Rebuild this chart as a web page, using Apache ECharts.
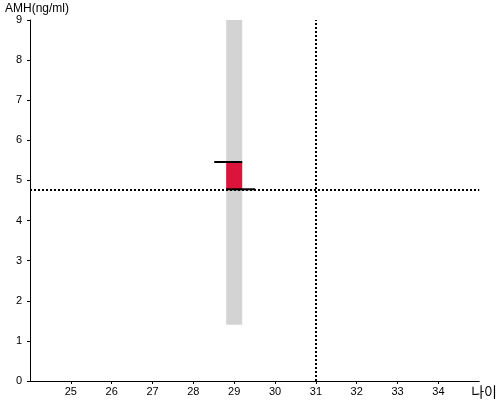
<!DOCTYPE html>
<html>
<head>
<meta charset="utf-8">
<script src="https://cdn.jsdelivr.net/npm/echarts@6/dist/echarts.min.js"></script>
<style>
  html, body { margin: 0; padding: 0; background: #fff; }
  #chart { width: 500px; height: 400px; }
</style>
</head>
<body>
<div id="chart"></div>
<script>
// 나이별 AMH 범위
const ages = [29];
const rangeLow = [1.4];
const rangeHigh = [9];
const myValue = [4.78];
const upperValue = [5.46];
// 기준선
const refAge = 31;
const refAmh = 4.78;

const xTicks = { min: 24, max: 35, interval: 1 };
const yTicks = { min: 0, max: 9, interval: 1 };

const myChart = echarts.init(document.getElementById('chart'));

const seriesData = ages.map((a, i) => [a, rangeLow[i], rangeHigh[i], myValue[i], upperValue[i]]);

const labelStyle = {
  fontFamily: 'Liberation Sans, Arial, sans-serif',
  fontSize: 11,
  color: '#000',
};

const option = {
  backgroundColor: '#fff',
  animation: false,
  grid: {
    left: 30,
    right: 20,
    top: 20,
    bottom: 19,
    containLabel: false,
  },
  xAxis: {
    type: 'value',
    min: xTicks.min,
    max: xTicks.max,
    interval: xTicks.interval,
    name: '나이',
    nameLocation: 'end',
    nameGap: -8,
    nameTextStyle: {
      fontFamily: 'Noto Sans CJK KR, sans-serif',
      fontSize: 14,
      color: '#000',
      verticalAlign: 'top',
      padding: [4, 0, 0, 0],
    },
    axisLine: { show: true, lineStyle: { color: '#000', width: 1 } },
    axisTick: { show: true, length: 3, lineStyle: { color: '#000' } },
    axisLabel: Object.assign({ showMinLabel: false, showMaxLabel: false, margin: 5 }, labelStyle),
    splitLine: { show: false },
  },
  yAxis: {
    type: 'value',
    min: yTicks.min,
    max: yTicks.max,
    interval: yTicks.interval,
    name: 'AMH(ng/ml)',
    nameLocation: 'end',
    nameGap: 3,
    nameTextStyle: {
      fontFamily: 'Liberation Sans, Arial, sans-serif',
      fontSize: 12,
      color: '#000',
      align: 'left',
      verticalAlign: 'bottom',
      padding: [0, 0, 0, -25],
    },
    axisLine: { show: true, lineStyle: { color: '#000', width: 1 } },
    axisTick: { show: true, length: 3, lineStyle: { color: '#000' } },
    axisLabel: Object.assign({ margin: 8 }, labelStyle),
    splitLine: { show: false },
  },
  series: [
    {
      type: 'custom',
      data: seriesData,
      renderItem: function (params, api) {
        const x = api.value(0);
        const pLow = api.coord([x, api.value(1)]);
        const pHigh = api.coord([x, api.value(2)]);
        const pCur = api.coord([x, api.value(3)]);
        const pUp = api.coord([x, api.value(4)]);
        const half = 8;
        return {
          type: 'group',
          children: [
            {
              type: 'rect',
              shape: { x: pHigh[0] - half, y: pHigh[1], width: half * 2, height: pLow[1] - pHigh[1] },
              style: { fill: '#d3d3d3' },
            },
            {
              type: 'rect',
              shape: { x: pUp[0] - half, y: pUp[1], width: half * 2, height: pCur[1] - pUp[1] },
              style: { fill: '#dc143c' },
            },
            {
              type: 'line',
              shape: { x1: pUp[0] - 20, y1: pUp[1], x2: pUp[0] + half, y2: pUp[1] },
              style: { stroke: '#000', lineWidth: 2 },
            },
            {
              type: 'line',
              shape: { x1: pCur[0] - half, y1: pCur[1], x2: pCur[0] + 21, y2: pCur[1] },
              style: { stroke: '#000', lineWidth: 2 },
            },
          ],
        };
      },
      markLine: {
        silent: true,
        symbol: 'none',
        label: { show: false },
        lineStyle: { color: '#000', width: 2, type: [2, 2] },
        data: [{ xAxis: refAge }, { yAxis: refAmh }],
      },
      z: 2,
    },
  ],
};

myChart.setOption(option);
</script>
</body>
</html>
